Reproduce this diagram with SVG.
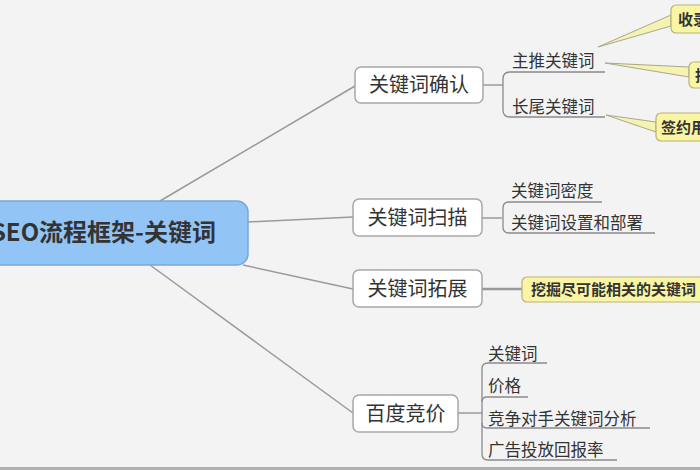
<svg xmlns="http://www.w3.org/2000/svg" width="700" height="470" viewBox="0 0 700 470">
<style>
.t{font-family:"Noto Sans CJK SC","Liberation Sans",sans-serif;fill:#333}
.node{fill:#ffffff;stroke:#a8a8a8;stroke-width:1.5}
.nt{font-size:20px}
.sub{font-size:16.5px}
.call{fill:#f9f5a4;stroke:#b7b27a;stroke-width:1.2}
.ct{font-size:15px;font-weight:bold}
.ln{fill:none;stroke:#9a9a9a;stroke-width:1.5}
.ul{fill:none;stroke:#8a8a8a;stroke-width:1.3}
.wedge{fill:#f6f2b0;stroke:#a8a890;stroke-width:1}
</style>
<rect x="0" y="0" width="700" height="470" fill="#f3f3f3"/>
<rect x="0" y="467" width="700" height="3" fill="#b0b0b0"/>

<g id="connectors">
  <line class="ln" x1="160" y1="201" x2="355" y2="86"/>
  <line class="ln" x1="248" y1="222" x2="353" y2="217"/>
  <line class="ln" x1="243" y1="265" x2="353" y2="289"/>
  <line class="ln" x1="150" y1="265" x2="353" y2="413"/>
  <path class="ln" d="M483,85 H503"/>
  <path class="ul" d="M605,72 H510 Q503,72 503,79 V110 Q503,117 510,117 H605"/>
  <path class="ln" d="M482,218 H502"/>
  <path class="ul" d="M602,202 H509 Q503,202 503,208 V227 Q503,233 509,233 H655"/>
  <path d="M482,289 H522" fill="none" stroke="#999" stroke-width="2.5"/>
  <path class="ln" d="M458,413 H482"/>
  <path class="ul" d="M547,363 H488 Q482,363 482,369 V454 Q482,460 488,460 H617"/>
  <path class="ul" d="M482,402 Q482,397 487,397 H528"/>
  <path class="ul" d="M482,423 Q482,428 487,428 H650"/>
  <polygon class="wedge" points="598,47 671,15 671,26"/>
  <polygon class="wedge" points="605,63 689,67 689,77"/>
  <polygon class="wedge" points="606,115 656,122 656,132"/>
</g>

<g id="root">
  <rect x="-12" y="201" width="260" height="64" rx="11" fill="#92c4f6" stroke="#78a8da" stroke-width="1.5"/>
  <text class="t" x="216" y="241" text-anchor="end" font-size="24" font-weight="bold" fill="#2f3a45">SEO流程框架-关键词</text>
</g>

<g id="n-confirm">
  <rect class="node" x="355" y="67" width="128" height="36" rx="6"/>
  <text class="t nt" x="419" y="92" text-anchor="middle">关键词确认</text>
</g>
<g id="n-main">
  <text class="t sub" x="512" y="67">主推关键词</text>
</g>
<g id="n-long">
  <text class="t sub" x="512" y="113">长尾关键词</text>
</g>
<g id="c-shoulu">
  <rect class="call" x="671" y="5" width="60" height="28" rx="5"/>
  <text class="t ct" x="678" y="25">收录</text>
</g>
<g id="c-2">
  <rect class="call" x="689" y="62" width="40" height="26" rx="5"/>
  <text class="t ct" x="695" y="81">排</text>
</g>
<g id="c-sign">
  <rect class="call" x="656" y="113" width="80" height="28" rx="5"/>
  <text class="t ct" x="661" y="133">签约用户</text>
</g>

<g id="n-scan">
  <rect class="node" x="353" y="199" width="129" height="37" rx="6"/>
  <text class="t nt" x="417.5" y="225" text-anchor="middle">关键词扫描</text>
</g>
<g id="n-density">
  <text class="t sub" x="511" y="197">关键词密度</text>
</g>
<g id="n-deploy">
  <text class="t sub" x="511" y="229">关键词设置和部署</text>
</g>

<g id="n-expand">
  <rect class="node" x="353" y="270" width="129" height="37" rx="6"/>
  <text class="t nt" x="417.5" y="296" text-anchor="middle">关键词拓展</text>
</g>
<g id="c-dig">
  <rect class="call" x="522" y="277" width="200" height="25" rx="5"/>
  <text class="t ct" x="531" y="295" font-size="15.5">挖掘尽可能相关的关键词</text>
</g>

<g id="n-baidu">
  <rect class="node" x="353" y="395" width="105" height="37" rx="6"/>
  <text class="t nt" x="405.5" y="421" text-anchor="middle">百度竞价</text>
</g>
<g id="n-kw">
  <text class="t sub" x="488" y="360">关键词</text>
</g>
<g id="n-price">
  <text class="t sub" x="488" y="392">价格</text>
</g>
<g id="n-comp">
  <text class="t sub" x="488" y="425">竞争对手关键词分析</text>
</g>
<g id="n-roi">
  <text class="t sub" x="488" y="456">广告投放回报率</text>
</g>
</svg>
